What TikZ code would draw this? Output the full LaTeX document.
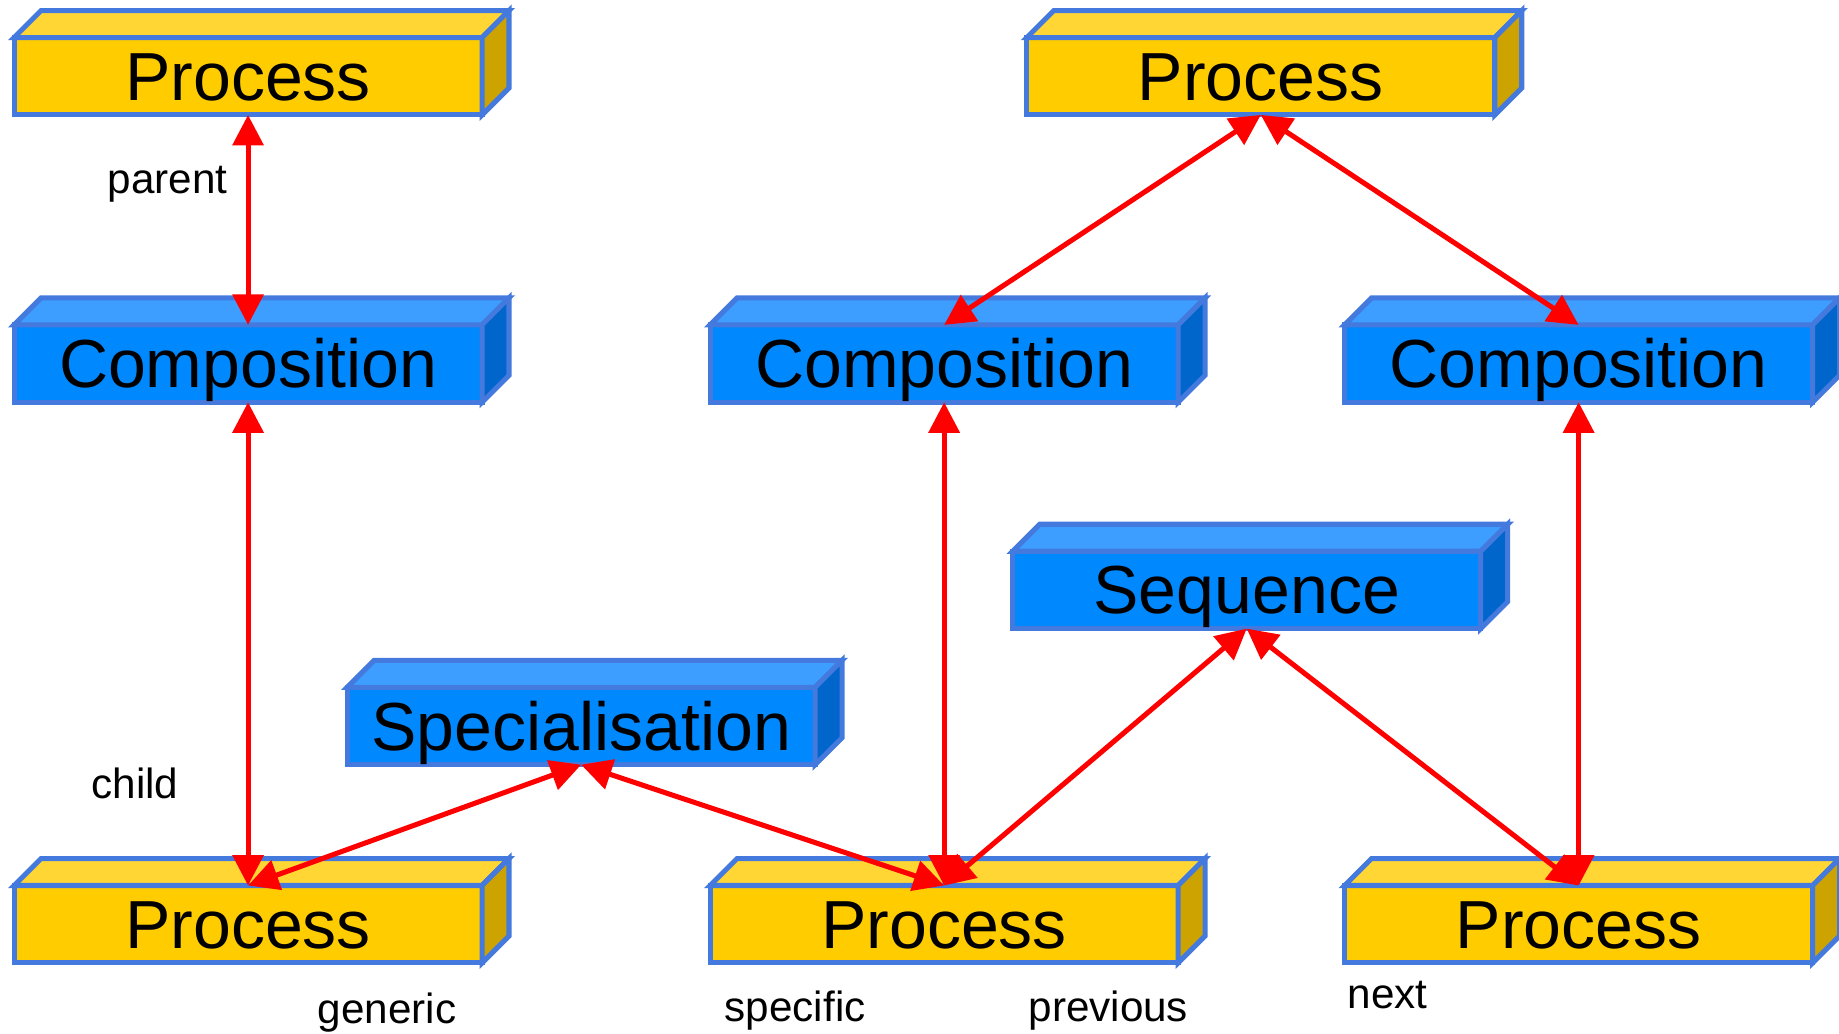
\documentclass[tikz,border=0pt]{standalone}
\usepackage{fontspec}
\setmainfont{Liberation Sans}
\usetikzlibrary{arrows.meta,calc}
\definecolor{bord}{HTML}{4479DD}
\definecolor{yfront}{HTML}{FFCC00}
\definecolor{ytop}{HTML}{FFD633}
\definecolor{yside}{HTML}{CCA300}
\definecolor{bfront}{HTML}{0088FF}
\definecolor{btop}{HTML}{3D9EFF}
\definecolor{bside}{HTML}{0066CC}
\tikzset{
  front/.style={draw=bord, line width=4.3pt, minimum width=399pt, minimum height=66pt,
    inner sep=0pt, outer sep=0pt, text height=41pt, text depth=0pt,
    font=\fontsize{58}{60}\selectfont},
  yel/.style={front, fill=yfront},
  blu/.style={front, fill=bfront},
  face/.style={draw=bord, line width=4.3pt, line join=miter},
  link/.style={draw=red, line width=4.3pt,
    {Triangle[length=26pt,width=26pt]}-{Triangle[length=26pt,width=26pt]}},
  lab/.style={font=\fontsize{36}{40}\selectfont, anchor=base, inner sep=0pt}
}
\newcommand\mycube[7]{%
  \node[#5] (#1) at (#2,#3) {#4};
  \draw[face, fill=#6] (#1.north west) -- ++(23,-23) -- ($(#1.north east)+(23,-23)$) -- (#1.north east) -- cycle;
  \draw[face, fill=#7] (#1.north east) -- ++(23,-23) -- ($(#1.south east)+(23,-23)$) -- (#1.south east) -- cycle;
}
\begin{document}
\begin{tikzpicture}[x=1pt,y=-1pt]
\useasboundingbox (0,0) rectangle (1568,880.8);
\mycube{P1}{211.5}{65}{Process}{yel}{ytop}{yside}
\mycube{C1}{211.5}{310}{Composition}{blu}{btop}{bside}
\mycube{P2}{1075}{65}{Process}{yel}{ytop}{yside}
\mycube{C2}{805}{310}{Composition}{blu}{btop}{bside}
\mycube{C3}{1346}{310}{Composition}{blu}{btop}{bside}
\mycube{S}{1063}{503}{Sequence}{blu}{btop}{bside}
\mycube{Sp}{495.5}{619}{Specialisation}{blu}{btop}{bside}
\mycube{P3}{211.5}{788}{Process}{yel}{ytop}{yside}
\mycube{P4}{805}{788}{Process}{yel}{ytop}{yside}
\mycube{P5}{1346}{788}{Process}{yel}{ytop}{yside}

\draw[link] (P1.south) -- (C1.north);
\draw[link] (C1.south) -- (P3.north);
\draw[link] (P2.south) -- (C2.north);
\draw[link] (P2.south) -- (C3.north);
\draw[link] (C2.south) -- (P4.north);
\draw[link] (C3.south) -- (P5.north);
\draw[link] (S.south) -- (P4.north);
\draw[link] (S.south) -- (P5.north);
\draw[link] (Sp.south) -- (P3.north);
\draw[link] (Sp.south) -- (P4.north);

\node[lab] (lparent) at (143,165) {parent};
\node[lab] (lchild) at (115,681) {child};
\node[lab] (lgeneric) at (330,873) {generic};
\node[lab] (lspecific) at (678,871) {specific};
\node[lab] (lprevious) at (945,871) {previous};
\node[lab] (lnext) at (1183,860) {next};
\end{tikzpicture}
\end{document}
